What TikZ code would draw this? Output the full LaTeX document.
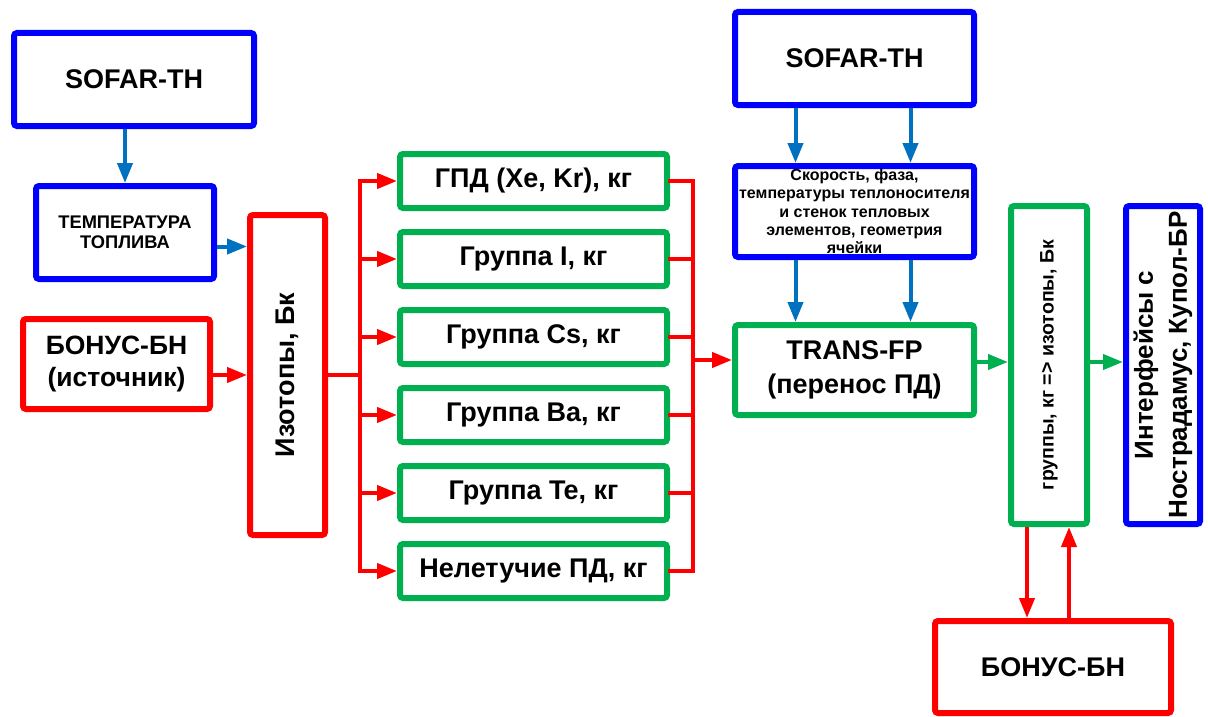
\documentclass[tikz,border=0pt]{standalone}
\usepackage{fontspec}
\setmainfont{Liberation Sans}
\usepackage{graphicx}
\usetikzlibrary{arrows.meta,positioning,calc}
\definecolor{boxblue}{HTML}{0000FF}
\definecolor{flowblue}{HTML}{0070C0}
\definecolor{boxred}{HTML}{FF0000}
\definecolor{boxgreen}{HTML}{00B050}

\begin{document}
\begin{tikzpicture}[x=1pt,y=-1pt,
 bbox/.style={draw=boxblue,line width=6pt,rounded corners=3pt,align=center,inner sep=0pt},
 rbox/.style={bbox,draw=boxred},
 gbox/.style={bbox,draw=boxgreen},
 big/.style={font=\bfseries\fontsize{27}{34}\selectfont},
 mid/.style={font=\bfseries\fontsize{27}{32}\selectfont},
 small/.style={font=\bfseries\fontsize{18.3}{20}\selectfont},
 barr/.style={-{Triangle[length=20pt,width=15pt]},line width=4pt,draw=flowblue},
 rarr/.style={barr,draw=boxred},
 garr/.style={barr,draw=boxgreen},
 rbus/.style={line width=4pt,draw=boxred,line cap=rect}
]
\useasboundingbox (0,0) rectangle (1208,717);
% left column
\node[bbox,big,minimum width=240pt,minimum height=93pt] (sofL) at (134,79.5) {SOFAR-TH};
\node[bbox,small,minimum width=178pt,minimum height=93pt] (temp) at (125,232.5) {ТЕМПЕРАТУРА\\ТОПЛИВА};
\node[rbox,font=\bfseries\fontsize{26.5}{32}\selectfont,minimum width=187pt,minimum height=90pt] (bonL) at (116.5,364) {БОНУС-БН\\(источник)};
\node[rbox,big,minimum width=75pt,minimum height=320pt] (iso) at (287.5,375) {\rotatebox{90}{Изотопы, Бк}};
% groups
\foreach \nm/\yy/\txt in {g1/181/{ГПД (Xe, Kr), кг},g2/259/{Группа I, кг},g3/337/{Группа Cs, кг},g4/415/{Группа Ba, кг},g5/493/{Группа Te, кг},g6/571/{Нелетучие ПД, кг}}
  {\node[gbox,mid,minimum width=267pt,minimum height=54pt] (\nm) at (533.5,\yy) {\txt};}
% right part
\node[bbox,big,minimum width=239pt,minimum height=93pt] (sofR) at (854.5,58.5) {SOFAR-TH};
\node[bbox,font=\bfseries\fontsize{16}{18.3}\selectfont,minimum width=239pt,minimum height=91pt] (speed) at (854.5,211.5)
  {Скорость, фаза,\\температуры теплоносителя\\и стенок тепловых\\элементов, геометрия\\ячейки};
\node[gbox,big,minimum width=239pt,minimum height=90pt] (trans) at (854.5,370) {TRANS-FP\\(перенос ПД)};
\node[gbox,font=\bfseries\fontsize{19.5}{22}\selectfont,minimum width=76pt,minimum height=318pt] (grp) at (1049,365) {\rotatebox{90}{группы, кг => изотопы, Бк}};
\node[bbox,font=\bfseries\fontsize{26}{34}\selectfont,minimum width=74pt,minimum height=318pt] (iface) at (1163,365)
  {\rotatebox{90}{\begin{tabular}{@{}c@{}}Интерфейсы с\\Нострадамус, Купол-БР\end{tabular}}};
\node[rbox,mid,minimum width=236pt,minimum height=92pt] (bonR) at (1053,667) {БОНУС-БН};
\coordinate (busL) at (360,375);
\coordinate (busR) at (693,360);
% connectors
\draw[barr] (temp.north |- sofL.south) -- (temp.north);
\path ([yshift=-14pt]temp.east) coordinate (tq);
\draw[barr] (tq) -- (tq -| iso.west);
\draw[rarr] (bonL.east |- iso) -- (iso.west);
\draw[rbus] (iso.east) -- (busL);
\draw[rbus] (busL |- g1) -- (busL |- g6);
\foreach \i in {1,...,6}{\draw[rarr] (busL |- g\i) -- (g\i.west);}
\draw[rbus] (g1.east) -- (busR |- g1.east) -- (busR |- g6.east) -- (g6.east);
\foreach \i in {2,...,5}{\draw[rbus] (g\i.east) -- (busR |- g\i.east);}
\draw[rarr] (busR) -- (busR -| trans.west);
\foreach \dx in {-59pt,56pt}{
  \draw[barr] ([xshift=\dx]sofR.south) -- ([xshift=\dx]speed.north);
  \draw[barr] ([xshift=\dx]speed.south) -- ([xshift=\dx]trans.north);}
\path ([yshift=8pt]trans.east) coordinate (tr);
\draw[garr] (tr) -- (tr -| grp.west);
\draw[garr] (tr -| grp.east) -- (tr -| iface.west);
\path ([xshift=-22pt]grp.south) coordinate (dnA) ([xshift=20pt]grp.south) coordinate (upA);
\draw[rarr] (dnA) -- (dnA |- bonR.north);
\draw[rarr] (upA |- bonR.north) -- (upA);
\end{tikzpicture}
\end{document}
